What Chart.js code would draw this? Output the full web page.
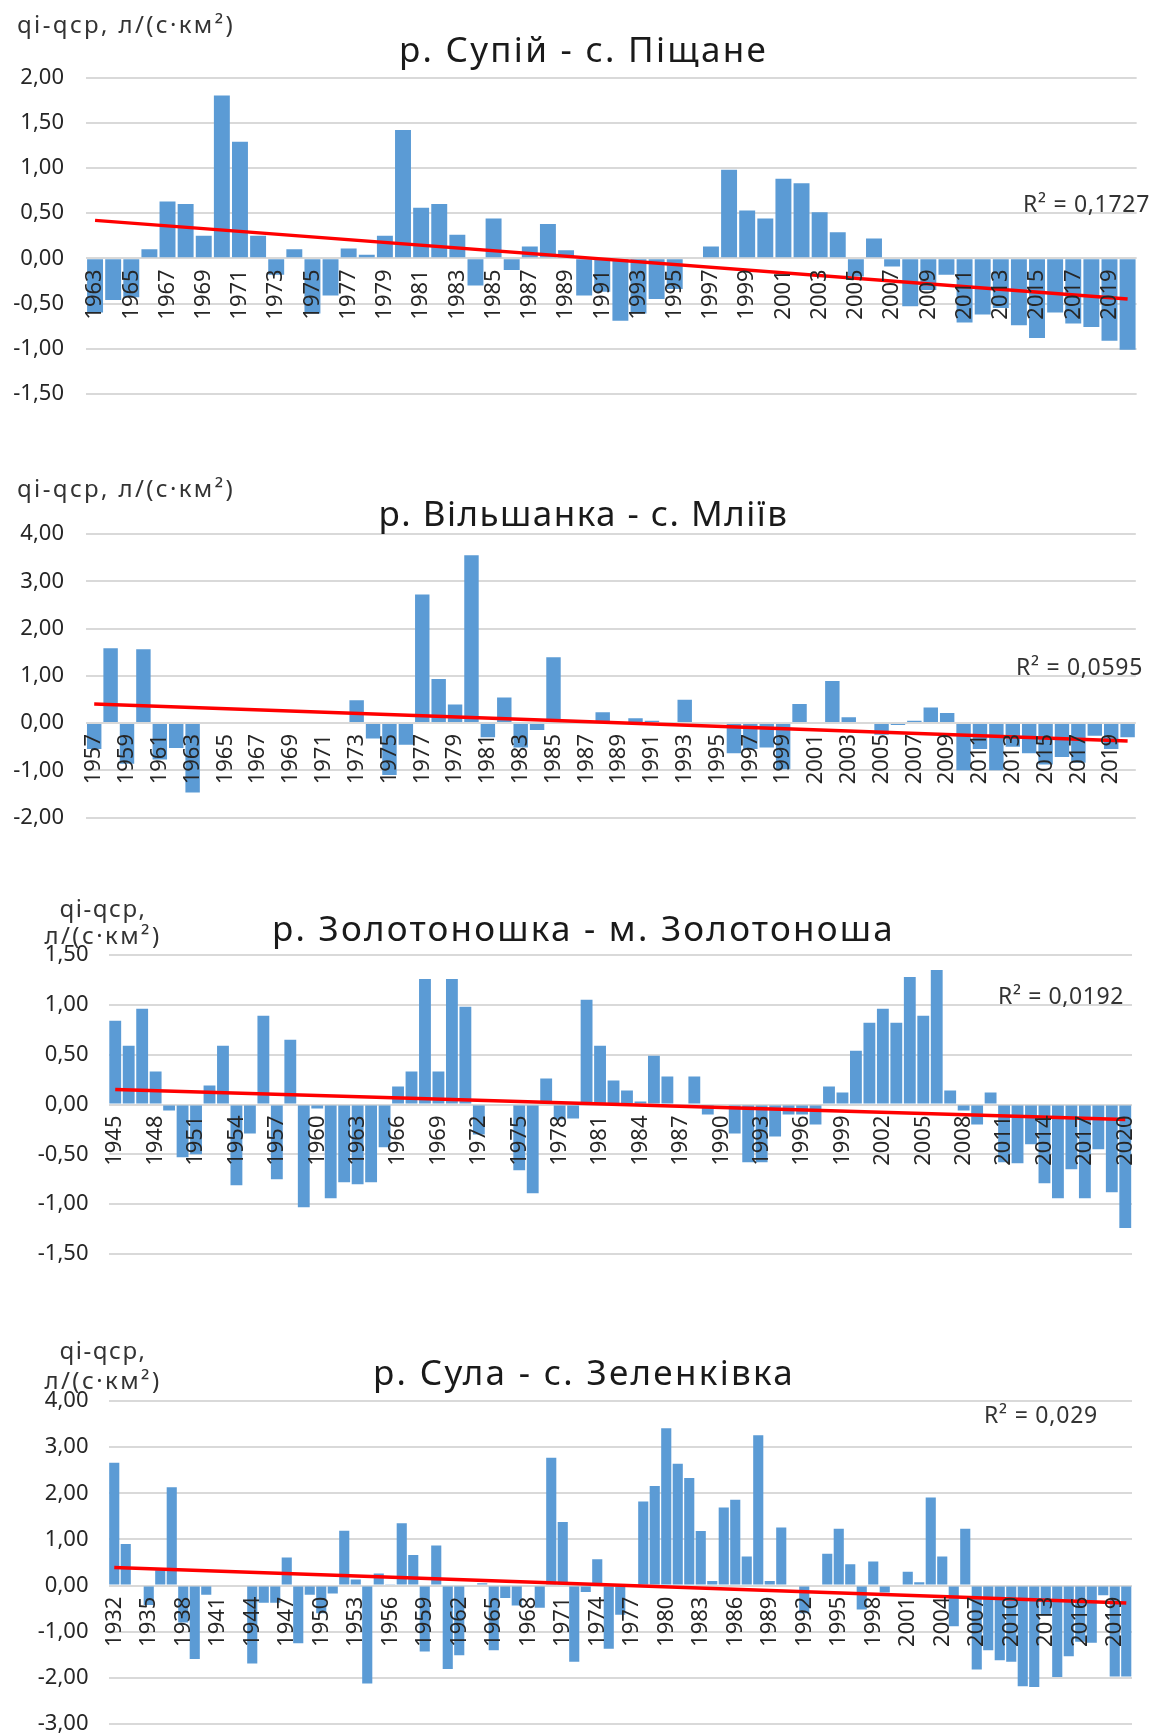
<!DOCTYPE html>
<html><head><meta charset="utf-8">
<script src="https://cdn.jsdelivr.net/npm/chart.js@4"></script>
<style>
html,body{margin:0;padding:0;background:#fff;width:1154px;height:1736px;overflow:hidden;}
#wrap{position:relative;width:1154px;height:1736px;overflow:hidden;}
canvas{position:absolute;left:0;}
.t{position:absolute;white-space:nowrap;font-family:'Noto Sans',sans-serif;line-height:1;}
.title{font-size:35px;color:#1a1a1a;transform:translate(-50%,-50%);}
.unit{font-size:24px;color:#333;transform:translateY(-50%);}
.unitc{font-size:24px;color:#333;transform:translate(-50%,-50%);}
.r2{font-size:23px;color:#333;transform:translate(-100%,-50%);}
</style></head>
<body><div id="wrap"></div>
<script>
// ---------- data ----------
function yearRange(a, b) { const r = []; for (let y = a; y <= b; y++) r.push(String(y)); return r; }

const years1 = yearRange(1963, 2020);
const values1 = [-0.60,-0.46,-0.43,0.10,0.63,0.60,0.25,1.80,1.29,0.25,
  -0.18,0.10,-0.61,-0.41,0.11,0.04,0.25,1.42,0.56,0.60,
  0.26,-0.30,0.44,-0.13,0.13,0.38,0.09,-0.41,-0.37,-0.69,
  -0.61,-0.45,-0.34,0,0.13,0.98,0.53,0.44,0.88,0.83,
  0.51,0.29,-0.20,0.22,-0.09,-0.53,-0.35,-0.18,-0.71,-0.62,
  -0.55,-0.74,-0.88,-0.60,-0.72,-0.76,-0.91,-1.01];
const trend1 = [0.42, -0.45];
const yTicks1 = [-1.5,-1,-0.5,0,0.5,1,1.5,2];

const years2 = yearRange(1957, 2020);
const values2 = [-0.55,1.58,-0.86,1.56,-0.77,-0.53,-1.47,0,0,0,
  0,0,0,0,0,0,0.48,-0.33,-1.10,-0.46,
  2.72,0.93,0.39,3.55,-0.30,0.54,-0.52,-0.15,1.39,0,
  0,0.23,0,0.10,0.05,0,0.49,0,0,-0.64,
  -0.55,-0.52,-0.98,0.40,0,0.89,0.12,0,-0.25,-0.04,
  0.05,0.33,0.21,-1.00,-0.55,-1.00,-0.50,-0.64,-0.88,-0.72,
  -0.84,-0.27,-0.55,-0.30];
const trend2 = [0.40, -0.38];
const yTicks2 = [-2,-1,0,1,2,3,4];

const years3 = yearRange(1945, 2020);
const values3 = [0.84,0.59,0.96,0.33,-0.06,-0.53,-0.50,0.19,0.59,-0.81,
  -0.29,0.89,-0.75,0.65,-1.03,-0.04,-0.94,-0.78,-0.80,-0.78,
  -0.43,0.18,0.33,1.26,0.33,1.26,0.98,-0.30,0,0,
  -0.66,-0.89,0.26,-0.15,-0.14,1.05,0.59,0.24,0.14,0.03,
  0.49,0.28,0,0.28,-0.10,0,-0.29,-0.58,-0.58,-0.32,
  -0.10,-0.10,-0.20,0.18,0.12,0.54,0.82,0.96,0.82,1.28,
  0.89,1.35,0.14,-0.06,-0.20,0.12,-0.58,-0.59,-0.40,-0.79,
  -0.94,-0.65,-0.94,-0.45,-0.88,-1.24];
const trend3 = [0.15, -0.15];
const yTicks3 = [-1.5,-1,-0.5,0,0.5,1,1.5];

const years4 = yearRange(1932, 2020);
const values4 = [2.66,0.90,0,-0.42,0.33,2.13,-0.80,-1.59,-0.20,0,
  0,0,-1.69,-0.37,-0.37,0.61,-1.25,-0.20,-0.60,-0.17,
  1.19,0.13,-2.12,0.26,0.03,1.35,0.66,-1.43,0.87,-1.81,
  -1.51,0,0.05,-1.40,-0.27,-0.43,0,-0.48,2.77,1.38,
  -1.65,-0.14,0.57,-1.37,-0.63,0,1.82,2.16,3.41,2.64,
  2.33,1.18,0.10,1.69,1.86,0.63,3.26,0.10,1.26,0,
  -0.60,0,0.69,1.23,0.46,-0.52,0.52,-0.15,0,0.30,
  0.07,1.91,0.63,-0.88,1.23,-1.82,-1.40,-1.62,-1.65,-2.18,
  -2.20,-0.65,-1.98,-1.53,-1.22,-1.24,-0.21,-1.97,-1.97];
const trend4 = [0.39, -0.38];
const yTicks4 = [-3,-2,-1,0,1,2,3,4];

const titles = ['р. Супій - с. Піщане', 'р. Вільшанка - с. Мліїв', 'р. Золотоношка - м. Золотоноша', 'р. Сула - с. Зеленківка'];
const r2Labels = ['R² = 0,1727', 'R² = 0,0595', 'R² = 0,0192', 'R² = 0,029'];
const unitText = 'qi-qср, л/(с·км²)';
const unitLine1 = 'qi-qср,';
const unitLine2 = 'л/(с·км²)';

// ---------- rendering ----------
Chart.defaults.font.family = "'Noto Sans', sans-serif";
const wrap = document.getElementById('wrap');

function addText(txt, cls, x, y, targetW) {
  const d = document.createElement('div');
  d.className = 't ' + cls;
  d.textContent = txt;
  d.style.left = x + 'px';
  d.style.top = y + 'px';
  wrap.appendChild(d);
  if (targetW) {
    const w = d.getBoundingClientRect().width;
    const n = Array.from(txt).length;
    d.style.letterSpacing = ((targetW - w) / n) + 'px';
  }
}

function makePanel(cfg) {
  const c = document.createElement('canvas');
  c.width = 1154; c.height = cfg.ch;
  c.style.top = cfg.ctop + 'px';
  wrap.appendChild(c);
  const n = cfg.labels.length;
  const trendData = cfg.labels.map((_, i) => i === 0 ? cfg.trend[0] : (i === n - 1 ? cfg.trend[1] : null));
  const yt = cfg.yTicks;
  new Chart(c, {
    type: 'bar',
    data: {
      labels: cfg.labels,
      datasets: [
        { type: 'line', data: trendData, borderColor: '#FF0000', borderWidth: 3.5, pointRadius: 0, pointHoverRadius: 0, spanGaps: true, fill: false, tension: 0, order: 1 },
        { type: 'bar', data: cfg.values, backgroundColor: '#5B9BD5', borderWidth: 0, barPercentage: 0.88, categoryPercentage: 1, order: 2 }
      ]
    },
    options: {
      responsive: false, animation: false, devicePixelRatio: 1,
      layout: { padding: { top: cfg.pt, bottom: cfg.pb, left: 0, right: cfg.pr } },
      plugins: { legend: { display: false }, tooltip: { enabled: false }, title: { display: false } },
      scales: {
        x: {
          position: { y: 0 },
          grid: { display: false, drawTicks: true, tickLength: 11 },
          border: { display: false },
          ticks: {
            autoSkip: false, minRotation: 90, maxRotation: 90, padding: 0, z: 1,
            color: '#262626', font: { size: 22 },
            callback: function (v, i) { return i % cfg.step === 0 ? this.getLabelForValue(v) : ''; }
          }
        },
        y: {
          min: yt[0], max: yt[yt.length - 1],
          grid: { color: '#D9D9D9', lineWidth: 2, drawTicks: false },
          border: { display: false },
          afterBuildTicks: s => { s.ticks = yt.map(v => ({ value: v })); },
          afterFit: s => { s.width = cfg.left; },
          ticks: { padding: cfg.tpad, color: '#262626', font: { size: 22 },
            callback: v => Number(v).toFixed(2).replace('.', ',') }
        }
      }
    }
  });
}

makePanel({ labels: years1, values: values1, trend: trend1, yTicks: yTicks1, ctop: 0, ch: 440, pt: 77.5, pb: 46, pr: 0, left: 86, tpad: 22, step: 2 });
makePanel({ labels: years2, values: values2, trend: trend2, yTicks: yTicks2, ctop: 440, ch: 430, pt: 94, pb: 52.5, pr: 0, left: 86, tpad: 22, step: 2 });
makePanel({ labels: years3, values: values3, trend: trend3, yTicks: yTicks3, ctop: 860, ch: 440, pt: 95, pb: 46, pr: 22, left: 108.5, tpad: 20, step: 3 });
makePanel({ labels: years4, values: values4, trend: trend4, yTicks: yTicks4, ctop: 1300, ch: 480, pt: 101, pb: 56, pr: 22, left: 108.5, tpad: 20, step: 3 });

// titles
addText(titles[0], 'title', 583.5, 48, 369);
addText(titles[1], 'title', 583.5, 512, 410);
addText(titles[2], 'title', 583.5, 927, 623);
addText(titles[3], 'title', 584, 1371, 422);
// unit labels
addText(unitText, 'unit', 17, 24, 218);
addText(unitText, 'unit', 17, 488, 218);
addText(unitLine1, 'unitc', 103, 908, 87);
addText(unitLine2, 'unitc', 103, 935, 117);
addText(unitLine1, 'unitc', 103, 1350, 87);
addText(unitLine2, 'unitc', 103, 1380, 117);
// R² labels
addText(r2Labels[0], 'r2', 1150, 203, 127);
addText(r2Labels[1], 'r2', 1143, 666, 127);
addText(r2Labels[2], 'r2', 1124, 995, 126);
addText(r2Labels[3], 'r2', 1098, 1414, 114);
</script></body></html>
